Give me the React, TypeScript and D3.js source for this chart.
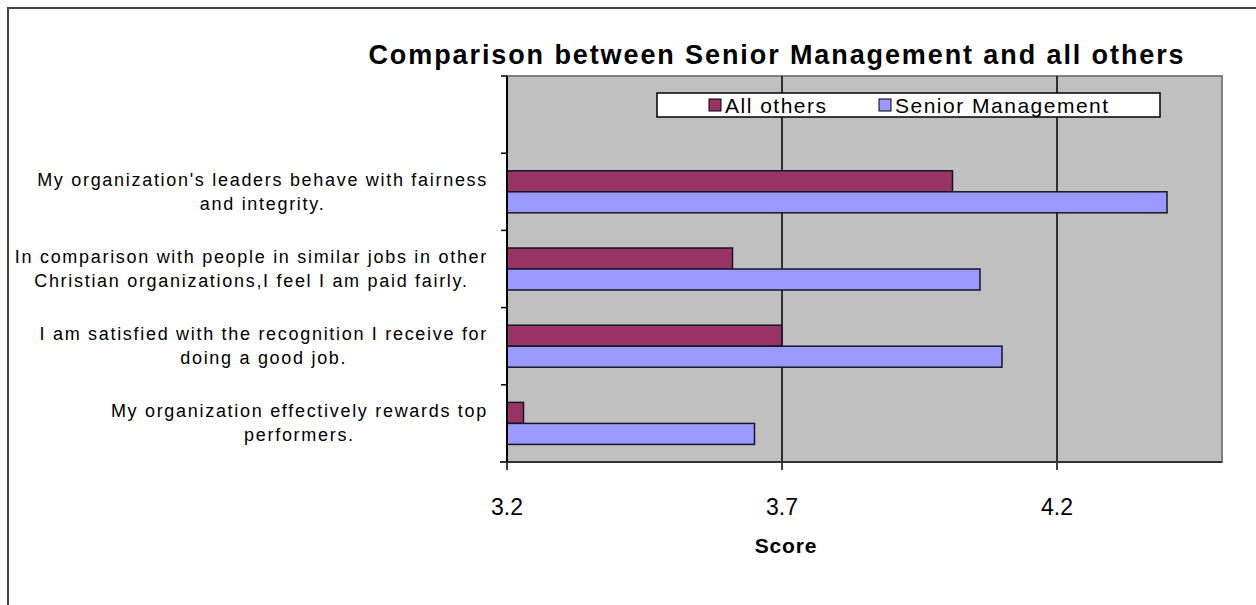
import * as d3 from 'd3';
import React from 'react';

// categories top -> bottom, "\n" marks the line break of the axis label
const categories = [
  "My organization's leaders behave with fairness\nand integrity.",
  'In comparison with people in similar jobs in other\nChristian organizations,I feel I am paid fairly.',
  'I am satisfied with the recognition I receive for\ndoing a good job.',
  'My organization effectively rewards top\nperformers.',
];
const allOthers = [4.01, 3.61, 3.7, 3.23];
const seniorMgmt = [4.4, 4.06, 4.1, 3.65];
const xTicks = [3.2, 3.7, 4.2];
const seriesNames = ['All others', 'Senior Management'];
const seriesColors = ['#993366', '#9999FF'];

const W = 1256;
const H = 605;
const FONT = "'Liberation Sans', Arial, sans-serif";

const measure = (() => {
  const ctx = document.createElement('canvas').getContext('2d')!;
  return (txt: string, size: number, spacing: number) => {
    ctx.font = `${size}px 'Liberation Sans', Arial, sans-serif`;
    return ctx.measureText(txt).width + spacing * txt.length;
  };
})();

export default function App() {
  const x = d3.scaleLinear().domain([3.2, 4.5]).range([507, 1222]);
  // an empty slot on top, where Excel put the legend
  const y = d3.scaleBand().domain(['', ...categories]).range([76, 462]);
  const bw = y.bandwidth();
  const barH = bw * 0.272;
  const sub = d3.scaleBand().domain(seriesNames).range([bw / 2 - barH, bw / 2 + barH]);

  const labelSize = 18;
  const labelSpacing = 1.7;

  const series = [allOthers, seniorMgmt];

  return (
    <svg width={W} height={H} style={{ position: 'absolute', left: 0, top: 0 }} fontFamily={FONT}>
      <rect x={0} y={0} width={W} height={H} fill="#fff" />
      <rect x={8} y={8} width={W + 20} height={H + 20} fill="#fff" stroke="#444" strokeWidth={2} />

      <text x={777} y={64} textAnchor="middle" fontSize={27} fontWeight="bold" letterSpacing={1.9} fill="#000">
        Comparison between Senior Management and all others
      </text>

      {/* plot area */}
      <rect x={507} y={76} width={1222 - 507} height={462 - 76} fill="#C0C0C0" stroke="#808080" strokeWidth={2} />

      {/* gridlines + x ticks */}
      {xTicks.map(t => (
        <line key={t} x1={x(t)} x2={x(t)} y1={76} y2={470} stroke="#000" strokeWidth={1.5} />
      ))}
      <line x1={500} x2={1222} y1={462} y2={462} stroke="#333" strokeWidth={2} />

      {/* bars */}
      {categories.map((c, i) => (
        <g key={c} transform={`translate(0,${y(c)})`}>
          {series.map((vals, s) => (
            <rect
              key={s}
              x={x(3.2)}
              y={sub(seriesNames[s])}
              width={x(vals[i]) - x(3.2)}
              height={sub.bandwidth()}
              fill={seriesColors[s]}
              stroke="#141428"
              strokeWidth={1.5}
            />
          ))}
        </g>
      ))}

      {/* left axis */}
      <line x1={507} x2={507} y1={76} y2={462} stroke="#000" strokeWidth={2} />
      {y.domain().map(c => (
        <line key={'t' + c} x1={501} x2={507} y1={y(c)!} y2={y(c)!} stroke="#000" strokeWidth={1.5} />
      ))}

      {/* category labels */}
      {categories.map(c => {
        const lines = c.split('\n');
        const maxW = Math.max(...lines.map(l => measure(l, labelSize, labelSpacing)));
        const cx = 488 - maxW / 2;
        const cy = y(c)! + bw / 2;
        return (
          <text key={'l' + c} fontSize={labelSize} letterSpacing={labelSpacing} textAnchor="middle" fill="#000">
            {lines.map((l, k) => (
              <tspan key={k} x={cx} y={cy + (k - (lines.length - 1) / 2) * 24 + 6}>
                {l}
              </tspan>
            ))}
          </text>
        );
      })}

      {/* x tick labels */}
      {xTicks.map(t => (
        <text key={'x' + t} x={x(t)} y={515} textAnchor="middle" fontSize={23} fill="#000">
          {t.toFixed(1)}
        </text>
      ))}
      <text x={786} y={553} textAnchor="middle" fontSize={21} fontWeight="bold" letterSpacing={0.8} fill="#000">
        Score
      </text>

      {/* legend */}
      <rect x={657} y={93} width={503} height={24} fill="#fff" stroke="#000" strokeWidth={1.5} />
      {seriesNames.map((n, i) => {
        const sx = i === 0 ? 709 : 879;
        return (
          <g key={n}>
            <rect x={sx} y={99} width={12} height={12} fill={seriesColors[i]} stroke="#000" strokeWidth={1} />
            <text x={sx + 16} y={113} fontSize={21} letterSpacing={1.5} fill="#000">
              {n}
            </text>
          </g>
        );
      })}
    </svg>
  );
}
